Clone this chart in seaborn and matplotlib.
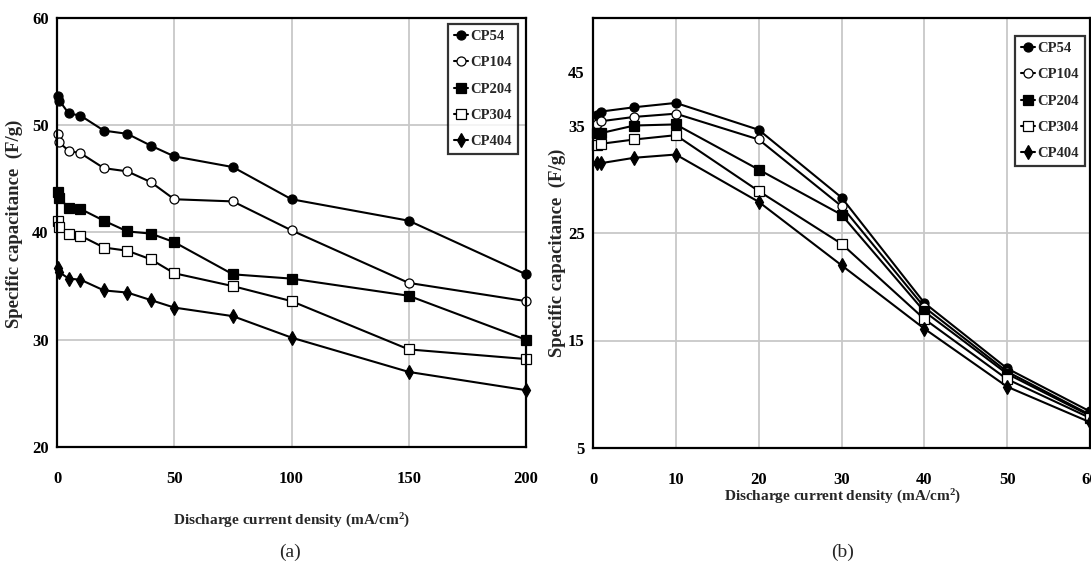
import numpy as np
import pandas as pd
import matplotlib
matplotlib.use("Agg")
import matplotlib.pyplot as plt
from matplotlib.ticker import MultipleLocator
import seaborn as sns

# ---- data ----
samples = ["CP54", "CP104", "CP204", "CP304", "CP404"]

# panel (a): wide current range
x_a = [0.5, 1, 5, 10, 20, 30, 40, 50, 75, 100, 150, 200]
cp54_a = [52.7, 52.3, 51.1, 50.9, 49.5, 49.2, 48.1, 47.1, 46.1, 43.1, 41.1, 36.1]
cp104_a = [49.2, 48.4, 47.6, 47.4, 46.0, 45.7, 44.7, 43.1, 42.9, 40.2, 35.3, 33.6]
cp204_a = [43.8, 43.2, 42.3, 42.2, 41.1, 40.1, 39.9, 39.1, 36.1, 35.7, 34.1, 30.0]
cp304_a = [41.1, 40.5, 39.9, 39.7, 38.6, 38.3, 37.5, 36.2, 35.0, 33.6, 29.1, 28.2]
cp404_a = [36.7, 36.3, 35.7, 35.6, 34.6, 34.4, 33.7, 33.0, 32.2, 30.2, 27.0, 25.3]

# panel (b): low current range
x_b = [0.5, 1, 5, 10, 20, 30, 40, 50, 60]
cp54_b = [36.0, 36.3, 36.7, 37.1, 34.6, 28.3, 18.5, 12.4, 8.4]
cp104_b = [35.1, 35.4, 35.8, 36.1, 33.7, 27.5, 18.1, 12.1, 8.1]
cp204_b = [34.3, 34.3, 35.0, 35.1, 30.9, 26.7, 17.7, 11.9, 8.0]
cp304_b = [33.2, 33.3, 33.7, 34.1, 28.9, 24.0, 17.0, 11.4, 7.8]
cp404_b = [31.5, 31.5, 32.0, 32.3, 27.9, 22.0, 16.1, 10.7, 7.4]

ylabels_b = ["5", "15", "25", "35", "45"]

df_a = pd.DataFrame({"x": x_a * 5,
                     "y": cp54_a + cp104_a + cp204_a + cp304_a + cp404_a,
                     "sample": np.repeat(samples, len(x_a))})
df_b = pd.DataFrame({"x": x_b * 5,
                     "y": cp54_b + cp104_b + cp204_b + cp304_b + cp404_b,
                     "sample": np.repeat(samples, len(x_b))})

# marker style per sample
styles = {
    "CP54": dict(marker="o", mfc="black"),
    "CP104": dict(marker="o", mfc="white"),
    "CP204": dict(marker="s", mfc="black"),
    "CP304": dict(marker="s", mfc="white"),
    "CP404": dict(marker="d", mfc="black"),
}

sns.set_style("white")
plt.rcParams["font.family"] = ["Liberation Serif", "DejaVu Serif"]
plt.rcParams["font.weight"] = "bold"
plt.rcParams["mathtext.fontset"] = "custom"
plt.rcParams["mathtext.bf"] = "Liberation Serif:bold"
plt.rcParams["mathtext.rm"] = "Liberation Serif:bold"
plt.rcParams["mathtext.default"] = "bf"

fig = plt.figure(figsize=(10.91, 5.65), dpi=100)
W, H = 1091, 565
ax_a = fig.add_axes([57 / W, 1 - 447 / H, 469 / W, 429 / H])
ax_b = fig.add_axes([593 / W, 1 - 448 / H, 497 / W, 430 / H])


def draw(ax, df):
    for s in samples:
        st = styles[s]
        sns.lineplot(data=df[df["sample"] == s], x="x", y="y", ax=ax,
                     color="black", linewidth=1.5, marker=st["marker"],
                     markersize=6.5 if st["marker"] != "d" else 7,
                     markerfacecolor=st["mfc"], markeredgecolor="black",
                     markeredgewidth=0.9, label=s, clip_on=False, zorder=3)
    ax.grid(True, color="#c8c8c8", linewidth=1.3)
    ax.set_axisbelow(True)
    for sp in ax.spines.values():
        sp.set_color("black")
        sp.set_linewidth(1.6)
        sp.set_zorder(4)
    ax.tick_params(axis="x", which="both", direction="out", length=6, width=1.2,
                   pad=11, labelsize=12, colors="black")
    ax.tick_params(axis="y", which="both", direction="out", length=4, width=1.2,
                   pad=2, labelsize=12, colors="black")
    ax.set_ylabel("Specific capacitance  (F/g)", fontsize=13.5, fontweight="bold")
    ax.set_xlabel("Discharge current density (mA/cm$^{2}$)", fontsize=11,
                  fontweight="bold")
    leg = ax.legend(loc="upper right", frameon=True, fancybox=False,
                    prop={"family": "Liberation Serif", "weight": "bold", "size": 10.5},
                    handlelength=1.0, handletextpad=0.15, labelspacing=0.9,
                    borderpad=0.4, borderaxespad=0)
    leg.get_frame().set_edgecolor("black")
    leg.get_frame().set_linewidth(1.6)
    return leg


# ---- panel (a) ----
leg_a = draw(ax_a, df_a)
ax_a.set_xlim(0, 200)
ax_a.set_ylim(20, 60)
ax_a.xaxis.set_major_locator(MultipleLocator(50))
ax_a.xaxis.set_minor_locator(MultipleLocator(10))
ax_a.yaxis.set_major_locator(MultipleLocator(10))
ax_a.yaxis.set_minor_locator(MultipleLocator(5))
leg_a.set_bbox_to_anchor((518 / W, 1 - 24 / H), transform=fig.transFigure)
ax_a.yaxis.set_label_coords(-0.072, 0.52)
ax_a.xaxis.set_label_coords(0.5, -0.152)
for lab in ax_a.get_xticklabels() + ax_a.get_yticklabels():
    lab.set_fontweight("bold")

# ---- panel (b) ----
leg_b = draw(ax_b, df_b)
ax_b.set_xlim(0, 60)
ax_b.set_ylim(5, 45)
ax_b.xaxis.set_major_locator(MultipleLocator(10))
ax_b.set_yticks([5, 15, 25, 35, 40])
ax_b.set_yticklabels(ylabels_b, fontweight="bold")
ax_b.set_yticks([10, 20, 30], minor=True)
gl = ax_b.get_ygridlines()
gl[3].set_visible(False)
gl[4].set_visible(False)
leg_b.set_bbox_to_anchor((1085 / W, 1 - 36 / H), transform=fig.transFigure)
ax_b.yaxis.set_label_coords(-0.055, 0.455)
ax_b.xaxis.set_label_coords(0.503, -0.093)
for lab in ax_b.get_xticklabels() + ax_b.get_yticklabels():
    lab.set_fontweight("bold")

# captions
fig.text(290 / W, 1 - 552 / H, "(a)", ha="center", va="center",
         fontsize=14, fontweight="normal", family="Liberation Serif")
fig.text(843 / W, 1 - 552 / H, "(b)", ha="center", va="center",
         fontsize=14, fontweight="normal", family="Liberation Serif")

fig.savefig("out.png", dpi=100)
